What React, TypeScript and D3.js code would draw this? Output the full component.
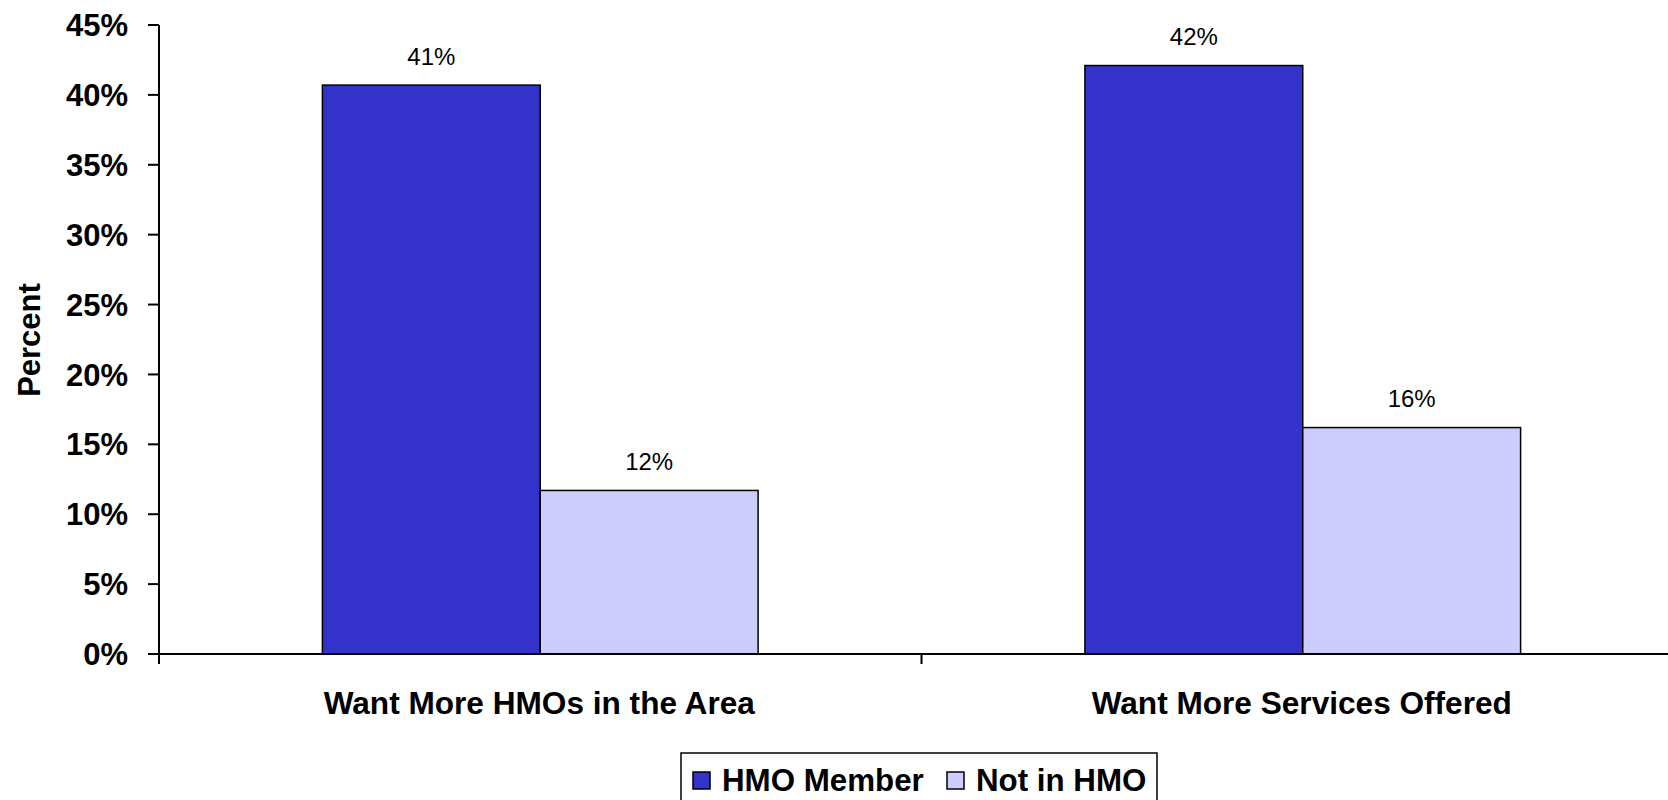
import React from 'react';
import * as d3 from 'd3';

const categories = ['Want More HMOs in the Area', 'Want More Services Offered'];
const seriesNames = ['HMO Member', 'Not in HMO'];
const hmoMember = [40.7, 42.1];
const notInHmo = [11.7, 16.2];
const seriesColors = ['#3333CC', '#CCCCFF'];
const yTicks = [0, 5, 10, 15, 20, 25, 30, 35, 40, 45];
const valueLabels = [['41%', '42%'], ['12%', '16%']];

const W = 1668;
const H = 800;
const FONT = '"Liberation Sans", Arial, sans-serif';

const App: React.FC = () => {
  const plotLeft = 159;
  const plotRight = 1684; // plot area runs slightly past the picture edge
  const plotTop = 25;
  const plotBottom = 654;

  const x = d3.scaleBand<string>().domain(categories).range([plotLeft, plotRight]).padding(0);
  const bw = x.bandwidth();
  const inner = d3
    .scaleBand<string>()
    .domain(seriesNames)
    .range([bw * 0.2143, bw * 0.7857])
    .padding(0);
  const y = d3.scaleLinear().domain([0, 45]).range([plotBottom, plotTop]);

  const series = [hmoMember, notInHmo];

  return (
    <svg
      width={W}
      height={H}
      style={{ position: 'fixed', top: 0, left: 0, background: '#fff' }}
      fontFamily={FONT}
    >
      {/* bars */}
      {series.map((vals, si) =>
        categories.map((c, ci) => {
          const bx = (x(c) || 0) + (inner(seriesNames[si]) || 0);
          const by = y(vals[ci]);
          return (
            <g key={`${si}-${ci}`}>
              <rect
                x={bx}
                y={by}
                width={inner.bandwidth()}
                height={plotBottom - by}
                fill={seriesColors[si]}
                stroke="#000"
                strokeWidth={1.5}
              />
              <text
                x={bx + inner.bandwidth() / 2}
                y={by - 20.5}
                textAnchor="middle"
                fontSize={24}
                fill="#000"
              >
                {valueLabels[si][ci]}
              </text>
            </g>
          );
        })
      )}

      {/* y axis */}
      <line x1={plotLeft} x2={plotLeft} y1={plotTop} y2={plotBottom + 10} stroke="#000" strokeWidth={2} />
      {yTicks.map(t => (
        <g key={t}>
          <line x1={plotLeft - 11} x2={plotLeft} y1={y(t)} y2={y(t)} stroke="#000" strokeWidth={2} />
          <text
            x={128}
            y={y(t)}
            dy="0.36em"
            textAnchor="end"
            fontSize={31}
            fontWeight="bold"
            fill="#000"
          >
            {t}%
          </text>
        </g>
      ))}

      {/* x axis */}
      <line x1={plotLeft} x2={plotRight} y1={plotBottom} y2={plotBottom} stroke="#000" strokeWidth={2} />
      {categories.slice(1).map(c => (
        <line
          key={c}
          x1={x(c) || 0}
          x2={x(c) || 0}
          y1={plotBottom}
          y2={plotBottom + 10}
          stroke="#000"
          strokeWidth={2}
        />
      ))}
      {categories.map(c => (
        <text
          key={c}
          x={(x(c) || 0) + bw / 2 - 1}
          y={714}
          textAnchor="middle"
          fontSize={31.6}
          fontWeight="bold"
          fill="#000"
        >
          {c}
        </text>
      ))}

      {/* y title */}
      <text
        transform={`translate(40, 340) rotate(-90)`}
        textAnchor="middle"
        fontSize={31}
        fontWeight="bold"
        fill="#000"
      >
        Percent
      </text>

      {/* legend */}
      <rect x={681} y={753} width={476} height={60} fill="#fff" stroke="#000" strokeWidth={1.5} />
      {seriesNames.map((s, i) => {
        const lx = i === 0 ? 693 : 947;
        return (
          <g key={s}>
            <rect x={lx} y={772} width={17} height={17} fill={seriesColors[i]} stroke="#000" strokeWidth={1.5} />
            <text x={lx + 29} y={791} fontSize={31.3} fontWeight="bold" fill="#000">
              {s}
            </text>
          </g>
        );
      })}
    </svg>
  );
};

export default App;
